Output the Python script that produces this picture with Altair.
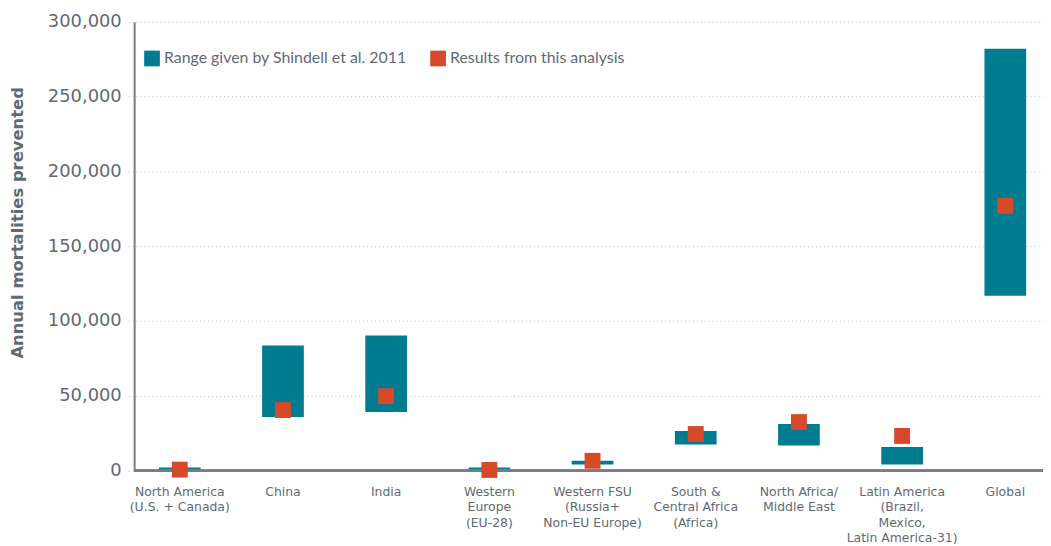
import altair as alt
import pandas as pd

regions = [
    "North America|(U.S. + Canada)",
    "China",
    "India",
    "Western|Europe|(EU-28)",
    "Western FSU|(Russia+|Non-EU Europe)",
    "South &|Central Africa|(Africa)",
    "North Africa/|Middle East",
    "Latin America|(Brazil,|Mexico,|Latin America-31)",
    "Global",
]
range_low = [500, 35900, 39200, 500, 4200, 17500, 16900, 4200, 116900]
range_high = [2200, 83700, 90300, 2200, 6700, 26500, 31200, 15900, 282000]
results = [700, 40500, 49800, 500, 6600, 24500, 32500, 23200, 177000]

S1 = "Range given by Shindell et al. 2011"
S2 = "Results from this analysis"

df = pd.DataFrame({
    "region": regions,
    "low": range_low,
    "high": range_high,
    "result": results,
    "s1": [S1] * len(regions),
    "s2": [S2] * len(regions),
})

TEAL = "#007C90"
ORANGE = "#D64A29"
GRAY = "#5f6a74"
AXIS = "#777d85"

x = alt.X(
    "region:N",
    sort=regions,
    scale=alt.Scale(range=[-6, 929], paddingInner=0, paddingOuter=0),
    axis=alt.Axis(
        title=None, labelAngle=0, ticks=False, domain=False,
        labelExpr="split(datum.label, '|')",
        labelFont="DejaVu Sans", labelFontSize=12.5, labelColor=GRAY,
        labelLineHeight=15.5, labelPadding=15, labelBaseline="top",
    ),
)

yscale = alt.Scale(domain=[0, 300000], nice=False)
color_scale = alt.Scale(domain=[S1, S2], range=[TEAL, ORANGE])

legend = alt.Legend(
    title=None, orient="none", legendX=10, legendY=29, direction="horizontal",
    symbolType="square", symbolSize=250, symbolOpacity=1, symbolStrokeWidth=0,
    labelFont="Lato", labelFontSize=16,
    labelColor=GRAY, labelOffset=4, labelLimit=0, columnPadding=23,
)

bars = alt.Chart(df).mark_bar(size=42).encode(
    x=x,
    y=alt.Y(
        "low:Q", scale=yscale,
        axis=alt.Axis(
            title="Annual mortalities prevented", values=[0, 50000, 100000, 150000, 200000, 250000, 300000],
            format=",d", ticks=False, tickSize=0, labelPadding=13,
            labelFont="DejaVu Sans", labelFontSize=18, labelColor=GRAY,
            domainColor=AXIS, domainWidth=2,
            grid=True, gridColor="#c4c4c4", gridDash=[1, 3], gridWidth=1,
            titleFont="DejaVu Sans", titleFontSize=16.5, titleFontWeight="bold", titleColor=GRAY,
            titleX=-109, titleY=202,
        ),
    ),
    y2="high:Q",
    color=alt.Color("s1:N", scale=color_scale, legend=legend),
)

points = alt.Chart(df).mark_square(size=256, opacity=1).encode(
    x=x,
    y=alt.Y("result:Q", scale=yscale),
    color=alt.Color("s2:N", scale=color_scale, legend=legend),
)

baseline = alt.Chart(df).mark_rule(color=AXIS, strokeWidth=2).encode(
    y=alt.datum(0),
)

chart = alt.layer(bars, baseline, points).properties(
    width=915,
    height=452,
    autosize=alt.AutoSizeParams(type="none"),
    padding={"left": 127, "top": 12, "right": 0, "bottom": 74},
).configure_view(stroke=None).configure_axis(grid=False)

chart = chart.configure_axisY(grid=True)

chart.save("out.html", embed_options={"renderer": "svg", "actions": False})
